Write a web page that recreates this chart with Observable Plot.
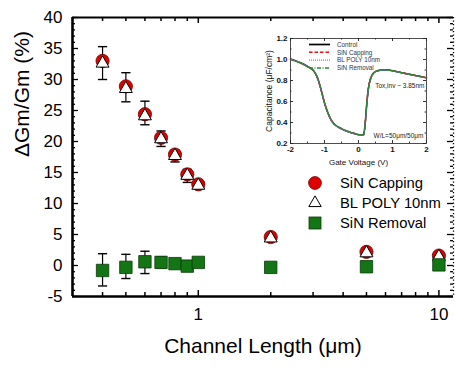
<!DOCTYPE html>
<html><head><meta charset="utf-8">
<script src="https://cdn.jsdelivr.net/npm/d3@7"></script>
<script src="https://cdn.jsdelivr.net/npm/@observablehq/plot@0.6"></script>
<style>
body{margin:0;background:#fff;}
#wrap{position:relative;width:455px;height:368px;overflow:hidden;font-family:"Liberation Sans",Arial,sans-serif;}
#wrap > *{position:absolute;left:0;top:0;}
</style></head><body><div id="wrap"></div>
<script>
// ---- main chart data ----
const lengths = [0.4, 0.5, 0.6, 0.7, 0.8, 0.9, 1, 2, 5, 10];
const sinCapping = [33.0, 28.9, 24.4, 20.6, 17.9, 14.7, 13.1, 4.6, 2.2, 1.6];
const sinCappingHi = [35.3, 31.1, 26.5, 21.7, 18.6, 15.5, 13.8, 5.0, 2.5, 1.9];
const sinCappingLo = [30.0, 26.4, 22.7, 19.2, 16.7, 13.4, 12.3, 4.2, 1.9, 1.3];
const blPoly = [32.6, 28.5, 24.1, 20.4, 17.7, 14.5, 12.9, 4.4, 2.0, 1.4];
const sinRemoval = [-0.8, -0.3, 0.6, 0.5, 0.3, -0.1, 0.5, -0.3, -0.2, 0.1];
const sinRemovalHi = [1.9, 1.8, 2.3, 1.4, 0.8, 0.5, 1.0, 0.1, 0.2, 0.5];
const sinRemovalLo = [-3.3, -2.1, -1.3, -0.4, -0.2, -0.7, 0.0, -0.7, -0.6, -0.3];
const seriesNames = ["SiN Capping", "BL POLY 10nm", "SiN Removal"];
const yTickLabels = [-5, 0, 5, 10, 15, 20, 25, 30, 35, 40];
const xTickLabels = [1, 10];
const xMinorTicks = [0.4, 0.5, 0.6, 0.7, 0.8, 0.9, 2, 3, 4, 5, 6, 7, 8, 9];

// ---- inset data ----
const gateV = [-2, -1.75, -1.5, -1.3, -1.2, -1.1, -1, -0.9, -0.8, -0.7, -0.5, -0.3, -0.1, 0.05, 0.15, 0.2, 0.25, 0.3, 0.35, 0.4, 0.5, 0.7, 0.9, 1.1, 1.4, 1.7, 2];
const cvControl = [1.005, 0.975, 0.935, 0.885, 0.82, 0.71, 0.585, 0.49, 0.42, 0.38, 0.34, 0.312, 0.292, 0.28, 0.28, 0.40, 0.60, 0.74, 0.81, 0.85, 0.885, 0.90, 0.898, 0.885, 0.865, 0.845, 0.825];
const cvCapping = [1.0, 0.973, 0.932, 0.883, 0.818, 0.712, 0.59, 0.492, 0.422, 0.381, 0.341, 0.313, 0.293, 0.281, 0.282, 0.41, 0.61, 0.75, 0.815, 0.853, 0.888, 0.902, 0.9, 0.887, 0.867, 0.847, 0.827];
const cvPoly = [1.003, 0.974, 0.934, 0.884, 0.82, 0.708, 0.583, 0.488, 0.419, 0.379, 0.339, 0.311, 0.291, 0.279, 0.279, 0.395, 0.595, 0.735, 0.807, 0.848, 0.884, 0.899, 0.897, 0.884, 0.864, 0.844, 0.824];
const cvRemoval = [1.0, 0.971, 0.931, 0.882, 0.823, 0.715, 0.592, 0.495, 0.424, 0.383, 0.343, 0.315, 0.294, 0.283, 0.283, 0.405, 0.605, 0.745, 0.812, 0.851, 0.886, 0.901, 0.899, 0.886, 0.866, 0.846, 0.826];
const cvNames = ["Control", "SiN Capping", "BL POLY 10nm", "SiN Removal"];
const insetYTicks = [0.2, 0.4, 0.6, 0.8, 1.0, 1.2];
const insetXTicks = [-2, -1, 0, 1, 2];

// ---- build tables ----
const mainRows = lengths.map((L, i) => ({
  L, cap: sinCapping[i], capHi: sinCappingHi[i], capLo: sinCappingLo[i],
  poly: blPoly[i], rem: sinRemoval[i], remHi: sinRemovalHi[i], remLo: sinRemovalLo[i]
}));
const cvSeries = [cvControl, cvCapping, cvPoly, cvRemoval];
const cvStyles = [
  {stroke: "#000", strokeWidth: 1.5, strokeDasharray: null},
  {stroke: "#e01010", strokeWidth: 1.4, strokeDasharray: "3.5,2"},
  {stroke: "#7a7aff", strokeWidth: 1.1, strokeDasharray: "1,1"},
  {stroke: "#2a8a2a", strokeWidth: 1.3, strokeDasharray: "4,1.5,1,1.5"}
];
const cvRows = cvSeries.map((s, k) => gateV.map((v, i) => ({V: v, C: s[i], series: cvNames[k]})));

const RED = "#e00000", GREEN = "#137513";
const W = 455, H = 368, mL = 72, mR = 2, mT = 17, mB = 72;
const pw = W - mL - mR, ph = H - mT - mB;
const xDomain = [0.3, 11.5], yDomain = [-5, 40];
const yMinor = d3.range(-5, 41).filter(v => v % 5 !== 0);

const capSymbol = {draw(ctx, size) { const r = Math.sqrt(size / Math.PI); ctx.moveTo(-r, 0); ctx.lineTo(r, 0); }};

const main = Plot.plot({
  width: W, height: H, marginLeft: mL, marginRight: mR, marginTop: mT, marginBottom: mB,
  x: {type: "log", domain: xDomain},
  y: {domain: yDomain},
  style: {fontFamily: "'Liberation Sans', Arial, sans-serif", fontSize: "17px", color: "#000", background: "transparent", overflow: "visible"},
  marks: [
    Plot.axisY(yTickLabels, {anchor: "left", tickSize: 0, tickPadding: 10, fontSize: 17, label: null, tickFormat: d => String(d)}),
    Plot.axisX(xTickLabels, {anchor: "bottom", tickSize: 0, tickPadding: 11, fontSize: 17, label: null, tickFormat: d => String(d)}),
    // inward ticks
    Plot.tickY(yTickLabels, {y: d => d, insetRight: pw - 6, stroke: "#000", strokeWidth: 1.3}),
    Plot.tickY(yMinor, {y: d => d, insetRight: pw - 3, stroke: "#000", strokeWidth: 1.3}),
    Plot.tickY(yTickLabels, {y: d => d, insetLeft: pw - 6, stroke: "#000", strokeWidth: 1.3}),
    Plot.tickY(yMinor, {y: d => d, insetLeft: pw - 3, stroke: "#000", strokeWidth: 1.3}),
    Plot.tickX(xTickLabels, {x: d => d, insetTop: ph - 6, stroke: "#000", strokeWidth: 1.5}),
    Plot.tickX(xMinorTicks, {x: d => d, insetTop: ph - 4, stroke: "#000", strokeWidth: 1.5}),
    Plot.tickX(xTickLabels, {x: d => d, insetBottom: ph - 6, stroke: "#000", strokeWidth: 1.5}),
    Plot.tickX(xMinorTicks, {x: d => d, insetBottom: ph - 4, stroke: "#000", strokeWidth: 1.5}),
    // frame
    Plot.ruleX([xDomain[1]], {stroke: "#000", strokeWidth: 1.3, strokeDasharray: "1.3,2.2"}),
    Plot.ruleX([xDomain[0]], {stroke: "#000", strokeWidth: 2.6}),
    Plot.ruleY([yDomain[1]], {stroke: "#000", strokeWidth: 2.2}),
    Plot.ruleY([yDomain[0]], {stroke: "#000", strokeWidth: 2.6}),
    // error bars
    Plot.ruleX(mainRows, {x: "L", y1: "capLo", y2: "capHi", stroke: "#000", strokeWidth: 1.2}),
    Plot.dot(mainRows, {x: "L", y: "capHi", symbol: capSymbol, r: 4.6, fill: "none", stroke: "#000", strokeWidth: 1.4}),
    Plot.dot(mainRows, {x: "L", y: "capLo", symbol: capSymbol, r: 4.6, fill: "none", stroke: "#000", strokeWidth: 1.4}),
    Plot.ruleX(mainRows, {x: "L", y1: "remLo", y2: "remHi", stroke: "#000", strokeWidth: 1.2}),
    Plot.dot(mainRows, {x: "L", y: "remHi", symbol: capSymbol, r: 4.6, fill: "none", stroke: "#000", strokeWidth: 1.4}),
    Plot.dot(mainRows, {x: "L", y: "remLo", symbol: capSymbol, r: 4.6, fill: "none", stroke: "#000", strokeWidth: 1.4}),
    // markers
    Plot.dot(mainRows, {x: "L", y: "cap", r: 6.6, fill: RED, stroke: "#6a0000", strokeWidth: 0.8}),
    Plot.dot(mainRows, {x: "L", y: "poly", symbol: "triangle", r: 4.8, fill: "#fff", stroke: "#000", strokeWidth: 1}),
    Plot.dot(mainRows, {x: "L", y: "rem", symbol: "square", r: 7.0, fill: GREEN, stroke: "#0a3a0a", strokeWidth: 0.8}),
    // axis titles
    Plot.text(["ΔGm/Gm (%)"], {frameAnchor: "left", rotate: -90, dx: -50, fontSize: 21, fill: "#000"}),
    Plot.text(["Channel Length (μm)"], {frameAnchor: "bottom", dy: 56, fontSize: 21, fill: "#000"})
  ]
});

// ---- inset ----
const iL = 258, iT = 30, iW = 172, iH = 140, imL = 32, imR = 4, imT = 8, imB = 27;
const ipw = iW - imL - imR, iph = iH - imT - imB;
const insetYMinor = [0.3, 0.5, 0.7, 0.9, 1.1];
const insetXMinor = [-1.5, -0.5, 0.5, 1.5];
const inset = Plot.plot({
  width: iW, height: iH, marginLeft: imL, marginRight: imR, marginTop: imT, marginBottom: imB,
  x: {domain: [-2, 2]},
  y: {domain: [0.2, 1.2]},
  style: {fontFamily: "'Liberation Sans', Arial, sans-serif", fontSize: "8px", color: "#111", background: "transparent", overflow: "visible"},
  marks: [
    Plot.axisY(insetYTicks, {anchor: "left", tickSize: 0, tickPadding: 3, fontSize: 8, fontWeight: "bold", label: null, tickFormat: d3.format(".1f")}),
    Plot.axisX(insetXTicks, {anchor: "bottom", tickSize: 0, tickPadding: 3, fontSize: 8, fontWeight: "bold", label: null, tickFormat: d => String(d)}),
    Plot.tickY(insetYTicks, {y: d => d, insetRight: ipw - 3, stroke: "#000", strokeWidth: 0.8}),
    Plot.tickY(insetYMinor, {y: d => d, insetRight: ipw - 1.5, stroke: "#000", strokeWidth: 0.8}),
    Plot.tickY(insetYTicks, {y: d => d, insetLeft: ipw - 3, stroke: "#000", strokeWidth: 0.8}),
    Plot.tickY(insetYMinor, {y: d => d, insetLeft: ipw - 1.5, stroke: "#000", strokeWidth: 0.8}),
    Plot.tickX(insetXTicks, {x: d => d, insetTop: iph - 3, stroke: "#000", strokeWidth: 0.8}),
    Plot.tickX(insetXMinor, {x: d => d, insetTop: iph - 1.5, stroke: "#000", strokeWidth: 0.8}),
    Plot.tickX(insetXTicks, {x: d => d, insetBottom: iph - 3, stroke: "#000", strokeWidth: 0.8}),
    Plot.tickX(insetXMinor, {x: d => d, insetBottom: iph - 1.5, stroke: "#000", strokeWidth: 0.8}),
    Plot.frame({stroke: "#222", strokeWidth: 0.8}),
    ...cvRows.map((rows, k) => Plot.line(rows, {x: "V", y: "C", curve: "monotone-x", ...cvStyles[k]})),
    Plot.text(["Tox,inv ~ 3.85nm"], {frameAnchor: "top-right", dx: -2, dy: 45, textAnchor: "end", fontSize: 6.5, fill: "#222"}),
    Plot.text(["W/L=50μm/50μm"], {frameAnchor: "bottom-right", dx: -3, dy: -6, textAnchor: "end", fontSize: 6.5, fill: "#222"}),
    Plot.text(["Capacitance (μF/cm²)"], {frameAnchor: "left", rotate: -90, dx: -21, fontSize: 8.5, lineAnchor: "middle", textAnchor: "middle", fill: "#111"}),
    Plot.text(["Gate Voltage (V)"], {frameAnchor: "bottom", dy: 21, fontSize: 8, fill: "#111"})
  ]
});
inset.style.left = iL + "px";
inset.style.top = iT + "px";

// ---- legends overlay ----
const ov = d3.create("svg").attr("width", W).attr("height", H).style("pointer-events", "none")
  .style("font-family", "'Liberation Sans', Arial, sans-serif");
const lg = ov.append("g");
const symX = 315, textX = 340, rowY0 = 183, rowStep = 20;
seriesNames.forEach((name, i) => {
  const y = rowY0 + i * rowStep;
  if (i === 0) lg.append("circle").attr("cx", symX).attr("cy", y).attr("r", 6.4).attr("fill", RED).attr("stroke", "#6a0000").attr("stroke-width", 0.8);
  if (i === 1) lg.append("path").attr("d", d3.symbol(d3.symbolTriangle, Math.PI * 4.6 * 4.6)()).attr("transform", `translate(${symX},${y})`).attr("fill", "#fff").attr("stroke", "#000").attr("stroke-width", 1);
  if (i === 2) lg.append("rect").attr("x", symX - 6).attr("y", y - 6).attr("width", 12).attr("height", 12).attr("fill", GREEN).attr("stroke", "#0a3a0a").attr("stroke-width", 0.8);
  lg.append("text").attr("x", textX).attr("y", y).attr("dy", "0.35em").attr("font-size", 14.8).attr("fill", "#000").text(name);
});
const ilg = ov.append("g");
const iLineX1 = 309, iLineX2 = 330, iTextX = 337, iRowY0 = 44.5, iRowStep = 7.8;
cvNames.forEach((name, k) => {
  const y = iRowY0 + k * iRowStep;
  const st = cvStyles[k];
  ilg.append("line").attr("x1", iLineX1).attr("x2", iLineX2).attr("y1", y).attr("y2", y)
    .attr("stroke", st.stroke).attr("stroke-width", st.strokeWidth + 0.2).attr("stroke-dasharray", st.strokeDasharray);
  ilg.append("text").attr("x", iTextX).attr("y", y).attr("dy", "0.35em").attr("font-size", 6.3).attr("fill", "#333").text(name);
});

const wrap = document.getElementById("wrap");
wrap.appendChild(main);
wrap.appendChild(inset);
wrap.appendChild(ov.node());
</script></body></html>
